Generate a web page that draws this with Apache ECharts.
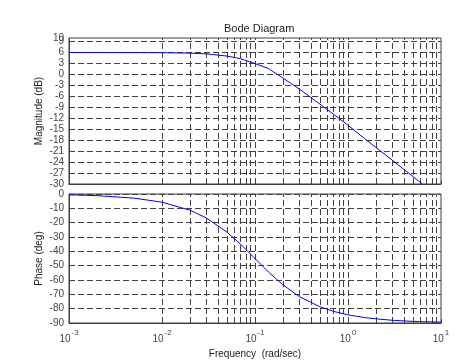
<!DOCTYPE html>
<html>
<head>
<meta charset="utf-8">
<script src="https://cdn.jsdelivr.net/npm/echarts@6/dist/echarts.min.js"></script>
<style>
html,body{margin:0;padding:0;background:#fff;}
#c{width:464px;height:361px;}
</style>
</head>
<body>
<div id="c"></div>
<script>
// Frequencies (rad/sec)
var freq = [0.001, 0.002, 0.005, 0.01, 0.02, 0.03, 0.05, 0.07, 0.1, 0.14, 0.2, 0.3, 0.5, 0.7, 1, 1.5, 2, 3, 5, 6.3];
// Magnitude (dB)
var magDb = [6.02, 6.02, 6.01, 5.98, 5.85, 5.65, 5.05, 4.33, 3.01, 1.6, -0.97, -3.98, -8.13, -10.9, -13.9, -17.5, -20.0, -23.5, -27.96, -30.0];
var freqPh = [0.001, 0.002, 0.005, 0.01, 0.02, 0.03, 0.05, 0.07, 0.1, 0.14, 0.2, 0.3, 0.5, 0.7, 1, 1.5, 2, 3, 5, 10];
// Phase (deg)
var phaseDeg = [-0.57, -1.15, -2.86, -5.71, -11.3, -16.7, -26.6, -35.0, -45.0, -54.5, -63.4, -71.6, -78.7, -81.9, -84.3, -86.2, -87.1, -88.1, -88.9, -89.4];
// Magnitude tick labels
var magTicks = [-30, -27, -24, -21, -18, -15, -12, -9, -6, -3, 0, 3, 6, 9];
var magTop = 10;
// Vertical grid positions (decades and their multiples)
var gridFreq = [];
[0.001, 0.01, 0.1, 1].forEach(function (d) {
  for (var k = 2; k <= 10; k++) gridFreq.push(+(d * k).toPrecision(3));
});
gridFreq.pop(); // skip 10 (right border)

var gridColor = '#404040';
var dash = [6, 3];
var font = 'Liberation Sans';
var labelColor = '#444';

function pairs(xs, ys) { return xs.map(function (x, i) { return [x, ys[i]]; }); }
function gridLines(withMag) {
  var d = gridFreq.map(function (f) { return { xAxis: f }; });
  if (withMag) {
    magTicks.forEach(function (t) { if (t > -30) d.push({ yAxis: t }); });
  }
  return {
    silent: true, symbol: ['none', 'none'], animation: false,
    label: { show: false },
    emphasis: { disabled: true },
    lineStyle: { type: dash, color: gridColor, width: 1 },
    data: d
  };
}

var chart = echarts.init(document.getElementById('c'));
chart.setOption({
  animation: false,
  title: {
    text: 'Bode Diagram', left: 219, top: 18,
    textStyle: { fontFamily: font, fontSize: 11, fontWeight: 'normal', color: '#222' }
  },
  grid: [
    { left: 69, right: 23, top: 38, height: 146, show: true, borderColor: gridColor, borderWidth: 1 },
    { left: 69, right: 23, top: 194, height: 129, show: true, borderColor: gridColor, borderWidth: 1 }
  ],
  xAxis: [0, 1].map(function (g) {
    return {
      type: 'log', logBase: 10, min: 0.001, max: 10, gridIndex: g,
      name: g === 1 ? 'Frequency  (rad/sec)' : '',
      nameLocation: 'middle', nameGap: 26,
      nameTextStyle: { fontFamily: font, fontSize: 10, color: '#222' },
      axisLine: { show: true, onZero: false, lineStyle: { color: gridColor } },
      axisTick: { show: true, inside: true, length: 4, lineStyle: { color: gridColor } },
      splitLine: { show: false },
      axisLabel: {
        show: g === 1, margin: 6,
        formatter: function (v) { return '{b|10}{s|' + Math.round(Math.log10(v)) + '}'; },
        rich: {
          b: { fontFamily: font, fontSize: 10, color: labelColor, padding: [5, 0, 0, 0] },
          s: { fontFamily: font, fontSize: 8, color: labelColor, verticalAlign: 'top', padding: [0, 0, 0, 1] }
        }
      }
    };
  }),
  yAxis: [
    {
      type: 'value', gridIndex: 0, min: -30, max: magTop, interval: 1,
      name: 'Magnitude (dB)', nameLocation: 'middle', nameGap: 25, nameMoveOverlap: false,
      nameTextStyle: { fontFamily: font, fontSize: 10, color: '#222' },
      axisLine: { show: true, lineStyle: { color: gridColor } },
      axisTick: { show: false },
      splitLine: { show: false },
      axisLabel: {
        margin: 5, fontFamily: font, fontSize: 10, color: labelColor,
        showMinLabel: true, showMaxLabel: false, hideOverlap: false,
        formatter: function (v) { return magTicks.indexOf(Math.round(v)) >= 0 ? String(Math.round(v)) : ''; }
      }
    },
    {
      type: 'value', gridIndex: 1, min: -90, max: 0, interval: 10,
      name: 'Phase (deg)', nameLocation: 'middle', nameGap: 25, nameMoveOverlap: false,
      nameTextStyle: { fontFamily: font, fontSize: 10, color: '#222' },
      axisLine: { show: true, lineStyle: { color: gridColor } },
      axisTick: { show: true, inside: true, length: 4, lineStyle: { color: gridColor } },
      splitLine: { show: true, lineStyle: { type: dash, color: gridColor, width: 1 } },
      axisLabel: { margin: 5, fontFamily: font, fontSize: 10, color: labelColor, showMinLabel: true, showMaxLabel: true, hideOverlap: false }
    },
    {
      type: 'value', gridIndex: 0, position: 'left', min: -30, max: magTop, interval: 5,
      axisLine: { show: false }, axisTick: { show: false }, splitLine: { show: false },
      axisLabel: {
        margin: 5, fontFamily: font, fontSize: 10, color: labelColor,
        showMinLabel: false, showMaxLabel: true, hideOverlap: false,
        formatter: function (v) { return Math.round(v) === magTop ? String(magTop) : ''; }
      }
    }
  ],
  series: [
    {
      type: 'line', xAxisIndex: 0, yAxisIndex: 0, data: pairs(freq, magDb), z: 5,
      showSymbol: false, symbol: 'none', lineStyle: { color: '#0000ff', width: 1 }, clip: true,
      markLine: gridLines(true)
    },
    {
      type: 'line', xAxisIndex: 1, yAxisIndex: 1, data: pairs(freqPh, phaseDeg), z: 5,
      showSymbol: false, symbol: 'none', lineStyle: { color: '#0000ff', width: 1 }, clip: true,
      markLine: gridLines(false)
    }
  ]
});
</script>
</body>
</html>
